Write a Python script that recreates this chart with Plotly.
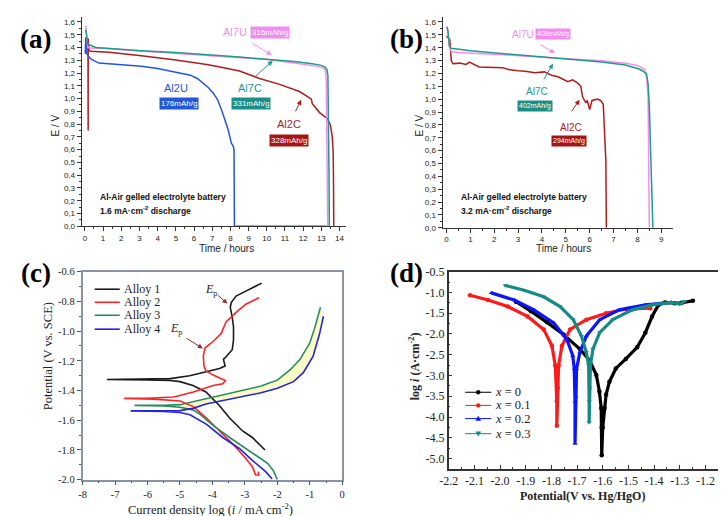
import plotly.graph_objects as go

# ---------------- DATA ----------------
# (a) 1.6 mA cm-2 discharge: time (h), E (V)
a_al2u_t = [0.02, 0.05, 0.07, 0.1, 0.2, 0.32, 0.77, 1.85, 3.1, 4.0, 4.9, 5.4, 5.8, 6.2, 6.5, 6.8, 7.05, 7.3, 7.5, 7.7, 7.86, 7.97, 8.05, 8.15, 8.2, 8.22, 8.25, 9.5, 11, 12.5, 13.3]
a_al2u_e = [1.35, 1.48, 1.47, 1.35, 1.33, 1.31, 1.278, 1.267, 1.252, 1.235, 1.209, 1.196, 1.183, 1.155, 1.12, 1.085, 1.044, 0.99, 0.917, 0.84, 0.764, 0.70, 0.65, 0.63, 0.6, 0.0, 0.0, 0.0, 0.0, 0.0, 0.0]
a_al7u_t = [0.05, 0.08, 0.12, 0.16, 0.3, 1.33, 3.0, 4.9, 7.0, 8.5, 10.0, 11.2, 12.0, 12.8, 13.1, 13.22, 13.27, 13.3, 13.32, 13.35]
a_al7u_e = [1.57, 1.50, 1.43, 1.40, 1.395, 1.39, 1.372, 1.354, 1.34, 1.323, 1.306, 1.285, 1.27, 1.252, 1.24, 1.225, 1.15, 0.8, 0.3, 0.0]
a_al7c_t = [0.05, 0.08, 0.12, 0.16, 0.6, 1.5, 3.1, 5.0, 6.7, 8.5, 10.3, 11.5, 12.5, 13.0, 13.2, 13.3, 13.36, 13.38, 13.40, 13.42, 13.44]
a_al7c_e = [1.54, 1.50, 1.45, 1.425, 1.40, 1.39, 1.374, 1.36, 1.344, 1.325, 1.303, 1.29, 1.272, 1.26, 1.247, 1.23, 1.18, 1.02, 0.84, 0.4, 0.0]
a_al2c_t = [0.17, 0.18, 0.18, 0.22, 0.3, 1.33, 3.1, 4.9, 6.7, 7.5, 8.5, 9.6, 10.7, 11.8, 12.3, 12.45, 12.5, 12.9, 13.35, 13.5, 13.6, 13.63, 13.65, 13.67, 13.68]
a_al2c_e = [1.47, 0.75, 1.47, 1.38, 1.37, 1.362, 1.336, 1.303, 1.267, 1.245, 1.216, 1.157, 1.111, 1.055, 1.005, 0.995, 0.96, 0.89, 0.84, 0.79, 0.70, 0.66, 0.58, 0.3, 0.0]

# (b) 3.2 mA cm-2 discharge
b_al7u_t = [0.0, 0.05, 0.12, 0.2, 0.5, 1.0, 2.3, 3.7, 5.1, 6.5, 7.5, 8.0, 8.3, 8.4, 8.45, 8.48, 8.5]
b_al7u_e = [1.57, 1.55, 1.42, 1.37, 1.362, 1.358, 1.346, 1.33, 1.315, 1.298, 1.28, 1.262, 1.23, 1.15, 1.0, 0.6, 0.0]
b_al7c_t = [0.02, 0.06, 0.12, 0.2, 1.0, 2.3, 3.7, 5.1, 6.5, 7.5, 8.1, 8.38, 8.45, 8.5, 8.54, 8.6, 8.65]
b_al7c_e = [1.56, 1.53, 1.41, 1.395, 1.376, 1.356, 1.333, 1.313, 1.288, 1.265, 1.232, 1.2, 1.12, 0.95, 0.65, 0.25, 0.0]
b_al2c_t = [0.0, 0.14, 0.2, 0.27, 0.55, 0.82, 0.96, 1.1, 1.37, 2.34, 2.6, 3.0, 3.3, 3.7, 4.1, 4.4, 4.67, 4.95, 5.08, 5.29, 5.5, 5.63, 5.7, 5.84, 5.9, 6.0, 6.1, 6.32, 6.46, 6.57, 6.62, 6.68, 6.7]
b_al2c_e = [1.49, 1.464, 1.30, 1.275, 1.28, 1.27, 1.288, 1.275, 1.25, 1.245, 1.23, 1.22, 1.217, 1.205, 1.212, 1.186, 1.174, 1.149, 1.136, 1.15, 1.124, 1.10, 1.02, 0.97, 0.99, 0.92, 0.99, 1.0, 0.99, 0.96, 0.77, 0.518, 0.0]

# (c) polarization curves: log i (mA cm-2), potential (V vs SCE); cathodic and anodic branches from Ecorr
c1_cat_x = [-7.25, -6.0, -5.3, -5.0, -4.6, -4.2, -3.8, -3.47, -3.07, -2.77, -2.52, -2.38]
c1_cat_y = [-1.326, -1.328, -1.332, -1.34, -1.366, -1.41, -1.497, -1.585, -1.672, -1.716, -1.77, -1.80]
c1_an_x = [-7.25, -6.0, -5.3, -4.7, -4.08, -3.78, -3.61, -3.66, -3.58, -3.39, -3.35, -3.35, -3.39, -3.45, -3.42, -3.27, -2.97, -2.48]
c1_an_y = [-1.326, -1.325, -1.32, -1.30, -1.27, -1.252, -1.235, -1.19, -1.173, -1.125, -1.06, -0.972, -0.906, -0.84, -0.808, -0.764, -0.731, -0.677]
c2_cat_x = [-6.72, -5.8, -4.99, -4.59, -4.18, -3.78, -3.37, -2.97, -2.77, -2.67, -2.57, -2.59]
c2_cat_y = [-1.453, -1.458, -1.47, -1.508, -1.585, -1.672, -1.76, -1.858, -1.913, -1.968, -1.968, -1.946]
c2_an_x = [-6.72, -6.0, -5.19, -4.59, -3.98, -3.68, -3.60, -3.98, -4.20, -4.26, -4.28, -4.23, -3.98, -3.73, -3.58, -3.27, -2.97, -2.57]
c2_an_y = [-1.453, -1.452, -1.443, -1.41, -1.366, -1.355, -1.333, -1.296, -1.267, -1.235, -1.169, -1.114, -1.07, -1.016, -0.939, -0.874, -0.819, -0.775]
c3_cat_x = [-6.4, -5.5, -5.0, -4.6, -4.38, -3.98, -3.47, -2.97, -2.57, -2.3, -2.12, -2.0]
c3_cat_y = [-1.50, -1.503, -1.512, -1.53, -1.56, -1.635, -1.716, -1.79, -1.85, -1.89, -1.94, -2.0]
c3_an_x = [-6.4, -5.5, -5.0, -4.5, -4.0, -3.5, -3.0, -2.5, -2.0, -1.6, -1.3, -1.0, -0.85, -0.72, -0.67]
c3_an_y = [-1.50, -1.50, -1.495, -1.47, -1.445, -1.42, -1.40, -1.37, -1.33, -1.26, -1.19, -1.08, -0.98, -0.88, -0.84]
c4_cat_x = [-6.52, -5.5, -5.0, -4.69, -4.18, -3.68, -3.17, -2.77, -2.36, -2.16]
c4_cat_y = [-1.537, -1.54, -1.548, -1.563, -1.628, -1.716, -1.79, -1.87, -1.946, -1.995]
c4_an_x = [-6.52, -5.5, -5.0, -4.6, -4.2, -3.5, -3.0, -2.5, -2.0, -1.5, -1.2, -0.9, -0.7, -0.58]
c4_an_y = [-1.537, -1.537, -1.535, -1.52, -1.49, -1.46, -1.44, -1.415, -1.385, -1.34, -1.28, -1.17, -1.02, -0.90]
c_names = ["Alloy 1", "Alloy 2", "Alloy 3", "Alloy 4"]

# (d) Tafel plots: potential (V vs Hg/HgO), log i (A cm-2)
d0_x = [-1.938, -1.88, -1.817, -1.753, -1.689, -1.651, -1.625, -1.613, -1.606, -1.604, -1.604, -1.600, -1.593, -1.587, -1.574, -1.549, -1.51, -1.466, -1.434, -1.408, -1.383, -1.357, -1.319, -1.293, -1.249]
d0_y = [-1.223, -1.45, -1.72, -2.01, -2.363, -2.638, -2.99, -3.385, -3.78, -4.25, -4.92, -4.25, -3.78, -3.46, -3.15, -2.83, -2.6, -2.32, -1.97, -1.58, -1.30, -1.24, -1.26, -1.25, -1.20]
d1_x = [-2.117, -2.047, -1.97, -1.893, -1.83, -1.798, -1.785, -1.779, -1.779, -1.775, -1.772, -1.759, -1.727, -1.664, -1.587, -1.51, -1.415]
d1_y = [-1.066, -1.184, -1.34, -1.577, -1.89, -2.285, -2.756, -3.62, -4.21, -3.3, -2.756, -2.285, -1.89, -1.656, -1.5, -1.40, -1.38]
d2_x = [-2.034, -1.945, -1.868, -1.791, -1.74, -1.717, -1.711, -1.708, -1.708, -1.705, -1.702, -1.689, -1.664, -1.612, -1.536, -1.434, -1.332]
d2_y = [-1.011, -1.184, -1.42, -1.735, -2.127, -2.52, -2.835, -3.62, -4.64, -3.5, -2.835, -2.44, -2.05, -1.656, -1.42, -1.30, -1.24]
d3_x = [-1.98, -1.906, -1.83, -1.766, -1.715, -1.683, -1.664, -1.655, -1.653, -1.653, -1.65, -1.648, -1.638, -1.612, -1.561, -1.485, -1.408, -1.332, -1.30, -1.28]
d3_y = [-0.83, -0.948, -1.105, -1.341, -1.656, -2.049, -2.44, -2.756, -3.62, -4.13, -3.3, -2.756, -2.36, -1.97, -1.656, -1.42, -1.30, -1.24, -1.28, -1.21]
d_names = ["0", "0.1", "0.2", "0.3"]

# tick values / labels
ab_e_ticks = [i / 10 for i in range(17)]
a_t_ticks = list(range(15))
b_t_ticks = list(range(10))
c_x_ticks = list(range(-8, 1))
c_y_ticks = [-2.0, -1.8, -1.6, -1.4, -1.2, -1.0, -0.8, -0.6]
d_x_ticks = [-2.2, -2.1, -2.0, -1.9, -1.8, -1.7, -1.6, -1.5, -1.4, -1.3, -1.2]
d_y_ticks = [-5.0, -4.5, -4.0, -3.5, -3.0, -2.5, -2.0, -1.5, -1.0, -0.5]

# ---------------- STYLE ----------------
W, H = 726, 516
def px(x): return x / W
def py(y): return 1 - y / H

SANS = "Liberation Sans, Arial, sans-serif"
SERIF = "Liberation Serif, Times New Roman, serif"
C_2U = "#2356e0"
C_7U = "#f28cf0"
C_7C = "#1f9a8c"
C_2C = "#b01c1c"

fig = go.Figure()

def line(x, y, color, xa, ya, width=1.5, **kw):
    fig.add_trace(go.Scatter(x=x, y=y, mode="lines", line=dict(color=color, width=width),
                             xaxis=xa, yaxis=ya, showlegend=False, hoverinfo="skip", **kw))

# (a)
line(a_al2c_t, a_al2c_e, C_2C, "x", "y")
line(a_al2u_t, a_al2u_e, C_2U, "x", "y")
line(a_al7u_t, a_al7u_e, C_7U, "x", "y")
line(a_al7c_t, a_al7c_e, C_7C, "x", "y")
# (b)
line(b_al2c_t, b_al2c_e, C_2C, "x2", "y2")
line(b_al7u_t, b_al7u_e, C_7U, "x2", "y2")
line(b_al7c_t, b_al7c_e, C_7C, "x2", "y2")

# (c) pale fill between Alloy 3 and Alloy 4 anodic branches
k3 = 2; k4 = 2
fig.add_trace(go.Scatter(x=c3_an_x[k3:] + c4_an_x[k4:][::-1], y=c3_an_y[k3:] + c4_an_y[k4:][::-1],
                         mode="lines", fill="toself", fillcolor="#fbfbc8", line=dict(width=0),
                         xaxis="x3", yaxis="y3", showlegend=False, hoverinfo="skip"))
c_cols = ["#1a1a1a", "#ff2222", "#2a8c5e", "#2323e6"]
c_data = [(c1_cat_x, c1_cat_y, c1_an_x, c1_an_y), (c2_cat_x, c2_cat_y, c2_an_x, c2_an_y),
          (c3_cat_x, c3_cat_y, c3_an_x, c3_an_y), (c4_cat_x, c4_cat_y, c4_an_x, c4_an_y)]
for (cx, cy, ax_, ay_), col in zip(c_data, c_cols):
    line(cx[::-1] + ax_[1:], cy[::-1] + ay_[1:], col, "x3", "y3", width=1.6)

# (d)
d_cols = ["#000000", "#ff1a1a", "#0a14ff", "#168a84"]
d_syms = ["circle", "circle", "triangle-up", "triangle-down"]
for xs, ys, col, sym in zip([d0_x, d1_x, d2_x, d3_x], [d0_y, d1_y, d2_y, d3_y], d_cols, d_syms):
    fig.add_trace(go.Scatter(x=xs, y=ys, mode="lines+markers", line=dict(color=col, width=3.2),
                             marker=dict(symbol=sym, size=4.5, color=col), xaxis="x4", yaxis="y4",
                             showlegend=False, hoverinfo="skip"))

# ---------------- AXES ----------------
def fmt_comma(v): return f"{v:.1f}".replace(".", ",")

ab_common = dict(showline=True, linecolor="#333", linewidth=1, ticks="outside", ticklen=4,
                 tickcolor="#333", showgrid=False, zeroline=False,
                 tickfont=dict(family=SANS, size=8, color="#222"))
fig.update_layout(
    xaxis=dict(domain=[px(65.7), px(335)], anchor="y", range=[-0.18, 14.38],
               tickvals=a_t_ticks, ticktext=[str(v) for v in a_t_ticks],
               minor=dict(dtick=0.5, tick0=0, ticklen=2, ticks="outside", tickcolor="#333"), **ab_common),
    yaxis=dict(domain=[py(216.7), py(2)], anchor="x", range=[0, 1.639],
               tickvals=ab_e_ticks, ticktext=[fmt_comma(v) for v in ab_e_ticks],
               minor=dict(dtick=0.05, tick0=0, ticklen=2, ticks="outside", tickcolor="#333"), **ab_common),
    xaxis2=dict(domain=[px(432.7), px(666.7)], anchor="y2", range=[-0.165, 9.48],
                tickvals=b_t_ticks, ticktext=[str(v) for v in b_t_ticks],
                minor=dict(dtick=0.5, tick0=0, ticklen=2, ticks="outside", tickcolor="#333"), **ab_common),
    yaxis2=dict(domain=[py(218.3), py(2)], anchor="x2", range=[0, 1.639],
                tickvals=ab_e_ticks, ticktext=[fmt_comma(v) for v in ab_e_ticks],
                minor=dict(dtick=0.05, tick0=0, ticklen=2, ticks="outside", tickcolor="#333"), **ab_common),
    xaxis3=dict(domain=[px(66.7), px(330.7)], anchor="y3", range=[-8, 0],
                tickvals=c_x_ticks, ticktext=[f"{v:d}" for v in c_x_ticks],
                showline=True, mirror=True, linecolor="#8a92aa", linewidth=1.5,
                ticks="outside", ticklen=4, tickcolor="#555", showgrid=False, zeroline=False,
                minor=dict(dtick=0.5, tick0=0, ticklen=2, ticks="outside", tickcolor="#555"),
                tickfont=dict(family=SERIF, size=10.5, color="#222")),
    yaxis3=dict(domain=[py(476.7), py(263.3)], anchor="x3", range=[-2.0, -0.6],
                tickvals=c_y_ticks, ticktext=[f"{v:.1f}" for v in c_y_ticks],
                showline=True, mirror=True, linecolor="#8a92aa", linewidth=1.5,
                ticks="outside", ticklen=4, tickcolor="#555", showgrid=False, zeroline=False,
                minor=dict(dtick=0.1, tick0=0, ticklen=2, ticks="outside", tickcolor="#555"),
                tickfont=dict(family=SERIF, size=10.5, color="#222")),
    xaxis4=dict(domain=[px(439), px(713.3)], anchor="y4", range=[-2.2, -1.149],
                tickvals=d_x_ticks, ticktext=[f"{v:.1f}" for v in d_x_ticks],
                showline=True, mirror=True, linecolor="#333", linewidth=1.5,
                ticks="inside", ticklen=4, tickcolor="#333", showgrid=False, zeroline=False,
                minor=dict(dtick=0.05, tick0=0, ticklen=2, ticks="inside", tickcolor="#333"),
                tickfont=dict(family=SERIF, size=12, color="#222")),
    yaxis4=dict(domain=[py(465.7), py(263.3)], anchor="x4", range=[-5.25, -0.5],
                tickvals=d_y_ticks, ticktext=[f"{v:.1f}" for v in d_y_ticks],
                showline=True, mirror=True, linecolor="#333", linewidth=1.5,
                ticks="inside", ticklen=4, tickcolor="#333", showgrid=False, zeroline=False,
                minor=dict(dtick=0.25, tick0=0, ticklen=2, ticks="inside", tickcolor="#333"),
                tickfont=dict(family=SERIF, size=12, color="#222")),
)

# ---------------- ANNOTATIONS ----------------
ann = []
def txt(x, y, s, size, color="#000", family=SANS, angle=0, xanchor="center", bg=None, pad=1):
    d = dict(x=px(x), y=py(y), xref="paper", yref="paper", text=s, showarrow=False,
             font=dict(size=size, color=color, family=family), textangle=angle,
             xanchor=xanchor, yanchor="middle")
    if bg:
        d.update(bgcolor=bg, borderpad=pad)
    ann.append(d)

def arrow(x0, y0, x1, y1, color, width=1.0, size=1.0):
    ann.append(dict(x=px(x1), y=py(y1), xref="paper", yref="paper", ax=x0 - x1, ay=y0 - y1,
                    axref="pixel", ayref="pixel", text="", showarrow=True, arrowhead=2,
                    arrowsize=size, arrowwidth=width, arrowcolor=color))

# panel letters
for lab, x, y in [("(a)", 19, 25), ("(b)", 396, 25), ("(c)", 19, 265), ("(d)", 396, 265)]:
    txt(x, y, f"<b>{lab}</b>", 27, family=SERIF)

# (a) labels
txt(39, 113, "E / V", 10, color="#222", angle=-90)
txt(213, 240, "Time / hours", 10, color="#222")
txt(221.7, 17, "Al7U", 11, C_7U)
txt(257.5, 17.7, "316mAh/g", 8, "#ffffff", bg=C_7U)
arrow(238, 28.5, 259, 41, C_7U)
txt(161.7, 75, "Al2U", 11, C_2U)
txt(165, 90.8, "176mAh/g", 8, "#ffffff", bg="#1f58d8")
txt(236.7, 75, "Al7C", 11, C_7C)
txt(238.3, 90.8, "331mAh/g", 8, "#ffffff", bg="#1b8f85")
arrow(241, 64, 260, 47, C_7C)
txt(276.7, 111.7, "Al2C", 11, C_2C)
txt(276.7, 128.3, "328mAh/g", 8, "#ffffff", bg="#a61515")
arrow(282.5, 100, 289, 87, C_2C)
txt(82, 187, "<b>Al-Air gelled electrolyte battery</b>", 8.5, "#111", xanchor="left")
txt(82, 201, "<b>1.6 mA·cm<sup>-2</sup> discharge</b>", 8.5, "#111", xanchor="left")

# (b) labels
txt(409, 113, "E / V", 10, color="#222", angle=-90)
txt(556, 239.5, "Time / hours", 10, color="#222")
txt(515, 20, "Al7U", 10, C_7U)
txt(545.5, 20, "408mAh/g", 7, "#ffffff", bg=C_7U)
arrow(531, 30, 547, 39, C_7U)
txt(528.3, 78.3, "Al7C", 10, C_7C)
txt(527, 93, "402mAh/g", 7, "#ffffff", bg="#1b8f85")
arrow(535, 67, 545, 50, C_7C)
txt(563.3, 115, "Al2C", 10, C_2C)
txt(561.3, 129.7, "294mAh/g", 7, "#ffffff", bg="#a61515")
arrow(563, 100, 572, 87, C_2C)
txt(449, 187, "<b>Al-Air gelled electrolyte battery</b>", 8.5, "#111", xanchor="left")
txt(449, 201, "<b>3.2 mA·cm<sup>-2</sup> discharge</b>", 8.5, "#111", xanchor="left")

# (c) labels
txt(31.5, 350, "Potential (V vs. SCE)", 12.5, "#222", family=SERIF, angle=-90)
txt(197, 507, "Current density log (<i>i</i> / mA cm<sup>-2</sup>)", 12.5, "#222", family=SERIF)
txt(198, 282, "<i>E</i><sub>p</sub>", 12, "#222", family=SERIF)
arrow(203, 286.5, 214, 296, "#8b2e2e")
txt(162.5, 322, "<i>E</i><sub>p</sub>", 12, "#222", family=SERIF)
arrow(171, 331, 189, 342, "#8b2e2e")
c_leg_y = [281.3, 294.7, 308, 322.3]
shapes = []
for name, col, yy in zip(c_names, c_cols, c_leg_y):
    shapes.append(dict(type="line", xref="paper", yref="paper", x0=px(79), x1=px(104.5),
                       y0=py(yy), y1=py(yy), line=dict(color=col, width=1.6)))
    txt(107, yy, name, 12, "#222", family=SERIF, xanchor="left", pad=0)

# (d) labels
txt(405, 360, "<b>log <i>i</i> (A·cm<sup>-2</sup>)</b>", 12, "#222", family=SERIF, angle=-90)
txt(575, 493.5, "<b>Potential(V vs. Hg/HgO)</b>", 12, "#222", family=SERIF)
d_leg_y = [387, 400.5, 414, 429.5]
d_sym_chars = ["●", "●", "▲", "▼"]
for name, col, ch, yy in zip(d_names, d_cols, d_sym_chars, d_leg_y):
    shapes.append(dict(type="line", xref="paper", yref="paper", x0=px(455.7), x1=px(482.3),
                       y0=py(yy), y1=py(yy), line=dict(color=col, width=1)))
    shapes.append(dict(type="circle" if ch == "●" else "path", xref="paper", yref="paper",
                       **({"x0": px(467), "x1": px(471), "y0": py(yy + 2), "y1": py(yy - 2)} if ch == "●" else
                          {"path": (f"M {px(466.5)} {py(yy + 2)} L {px(471.5)} {py(yy + 2)} L {px(469)} {py(yy - 2.5)} Z"
                                    if ch == "▲" else
                                    f"M {px(466.5)} {py(yy - 2)} L {px(471.5)} {py(yy - 2)} L {px(469)} {py(yy + 2.5)} Z")}),
                       fillcolor=col, line=dict(color=col, width=0.5)))
    txt(484.5, yy, f"<i>x</i> = {name}", 12.5, "#222", family=SERIF, xanchor="left", pad=0)

fig.update_layout(annotations=ann, shapes=shapes, width=W, height=H,
                  margin=dict(l=0, r=0, t=0, b=0), paper_bgcolor="white", plot_bgcolor="white",
                  showlegend=False)
fig.write_html("out.html")
